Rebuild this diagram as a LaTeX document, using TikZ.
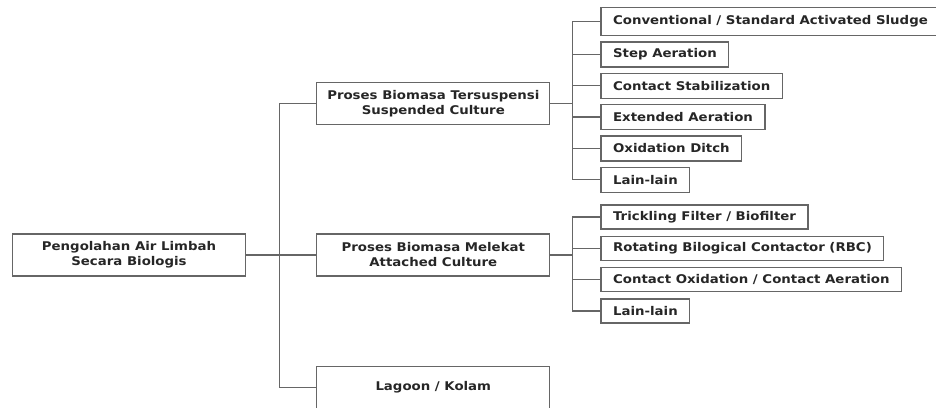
\documentclass[tikz,border=0pt]{standalone}
\usepackage{fontspec}
\setmainfont{DejaVu Sans}[FakeStretch=1.11]
\usetikzlibrary{positioning,calc}
\tikzset{
  induk/.style = {draw=black!60, line width=1.3pt, align=center, text=black!85,
                  font=\bfseries\fontsize{12}{15}\selectfont,
                  minimum width=233pt, minimum height=42pt, inner sep=3pt},
  anak/.style  = {draw=black!60, line width=1.3pt, text=black!85,
                  font=\bfseries\fontsize{12}{15}\selectfont,
                  minimum height=25pt, inner xsep=12pt, inner ysep=2pt},
  garis/.style = {draw=black!60, line width=1.3pt},
}
\begin{document}
\begin{tikzpicture}[x=1pt, y=-1pt]
  \clip (0,0) rectangle (936,407);
  \useasboundingbox (0,0) rectangle (936,407);

  \node[induk] (akar) at (129,255) {Pengolahan Air Limbah\\Secara Biologis};
  \node[induk, right=70pt of akar] (melekat) {Proses Biomasa Melekat\\Attached Culture};
  \node[induk, above=108pt of melekat] (suspensi) {Proses Biomasa Tersuspensi\\Suspended Culture};
  \node[induk, below=89pt of melekat] (kolam) {Lagoon / Kolam};

  % suspended culture
  \node[anak, minimum height=28pt, anchor=west] (s1) at ($(suspensi.east)+(50pt,82pt)$)
    {Conventional / Standard Activated Sludge};
  \node[anak, below=5pt of s1.south west, anchor=north west] (s2) {Step Aeration};
  \node[anak, below=5pt of s2.south west, anchor=north west] (s3) {Contact Stabilization};
  \node[anak, below=5pt of s3.south west, anchor=north west] (s4) {Extended Aeration};
  \node[anak, below=5pt of s4.south west, anchor=north west] (s5) {Oxidation Ditch};
  \node[anak, below=5pt of s5.south west, anchor=north west] (s6) {Lain-lain};

  % attached culture
  \node[anak, minimum height=24pt, anchor=west] (m1) at ($(melekat.east)+(50pt,38pt)$)
    {Trickling Filter / Biofilter};
  \node[anak, minimum height=24pt, below=6pt of m1.south west, anchor=north west] (m2)
    {Rotating Bilogical Contactor (RBC)};
  \node[anak, minimum height=24pt, below=6pt of m2.south west, anchor=north west] (m3)
    {Contact Oxidation / Contact Aeration};
  \node[anak, minimum height=24pt, below=6pt of m3.south west, anchor=north west] (m4)
    {Lain-lain};

  % percabangan
  \coordinate (cabang) at ($(akar.east)+(33pt,0)$);
  \coordinate (cabang1) at ($(suspensi.east)+(22pt,0)$);
  \coordinate (cabang2) at ($(melekat.east)+(22pt,0)$);

  \draw[garis] (akar.east) -- (melekat.west);
  \draw[garis] (cabang) |- (suspensi.west);
  \draw[garis] (cabang) |- (kolam.west);
  \draw[garis] (suspensi.east) -- (cabang1);
  \draw[garis] (melekat.east) -- (cabang2);
  \foreach \n in {s1,s2,s3,s4,s5,s6}
    \draw[garis] (cabang1) |- (\n.west);
  \foreach \n in {m1,m2,m3,m4}
    \draw[garis] (cabang2) |- (\n.west);
\end{tikzpicture}
\end{document}
